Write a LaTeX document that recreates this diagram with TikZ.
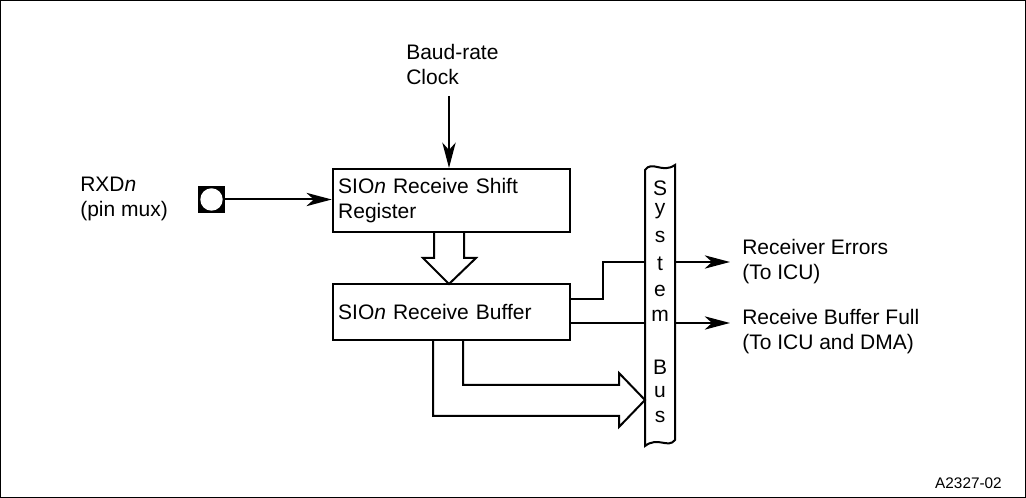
\documentclass[tikz,border=0pt]{standalone}
\usepackage{fontspec}
\setmainfont{Liberation Sans}
\usetikzlibrary{arrows.meta,calc}
\begin{document}
\begin{tikzpicture}[x=0.75pt,y=-0.75pt,
  every node/.style={font=\fontsize{15.75}{18.75}\selectfont, inner sep=0pt},
  line/.style={line width=1.5pt},
  arr/.style={line width=1.5pt, -{Stealth[length=19pt,width=10pt,inset=5.5pt]}},
  blockbox/.style={draw, line width=1.6pt, minimum width=177.75pt, text width=170pt, inner xsep=4pt, align=left},
  txt/.style={align=left, anchor=west},
  buslbl/.style={font=\fontsize{15.75}{18.75}\selectfont}
]
\useasboundingbox (0,0) rectangle (1026,498);
\draw[line width=0.75pt] (0.5,0.5) rectangle (1025.5,497.5);

% blocks
\node[blockbox, minimum height=47.25pt] (shift) at (451.5,200.5) {SIO\textit{n} Receive Shift\\Register};
\node[blockbox, minimum height=42pt] (buf) at (451.5,312) {SIO\textit{n} Receive Buffer};

% pin
\node[fill=black, minimum width=20pt, minimum height=20pt] (pin) at (211.5,199.5) {};
\fill[white] (pin.center) circle (8.4pt);
\node[txt] (rxd) at (80,199) {RXD\textit{n}\\(pin mux)};
\draw[arr] (pin.east) -- (pin.east -| shift.west);

% clock
\node[txt] (clktxt) at (406,65) {Baud-rate\\Clock};
\coordinate (clk) at (449,96);
\draw[arr] (clk) -- (clk |- shift.north);

% hollow arrow between blocks
\draw[line width=1.5pt, line join=miter] (434,232) -- (434,258) -- (423,258) -- (449,284) -- (476,258) -- (464,258) -- (464,232);

% system bus
\node[minimum width=22.5pt, minimum height=207pt] (bus) at (660,305) {};
\draw[line width=1.5pt, fill=white]
  (645,170) .. controls (652,160) and (662,174) .. (675,165)
  -- (675,440) .. controls (668,449) and (658,436) .. (645,446) -- cycle;
\foreach \l/\yy in {S/188,y/211,s/237,t/264,e/291,m/316,B/367,u/392,s/417}
  \node[buslbl] at (660,\yy) {\l};

% receiver errors
\node[txt] (err) at (742,262) {Receiver Errors\\(To ICU)};
\draw[line] (buf.east |- 0,299) -- (603,299) -- (603,262) -- (bus.west |- 0,262);
\draw[arr] (bus.east |- 0,262) -- ($(err.west |- 0,262)+(-12,0)$);

% receive buffer full
\node[txt] (full) at (742,332) {Receive Buffer Full\\(To ICU and DMA)};
\draw[line] (buf.east |- 0,323) -- (bus.west |- 0,323);
\draw[arr] (bus.east |- 0,323) -- ($(full.west |- 0,323)+(-12,0)$);

% wide arrow to bus
\draw[line width=1.5pt, line join=miter] (433,340) -- (433,416) -- (619,416) -- (619,427) -- (645,400) -- (619,373) -- (619,385) -- (463,385) -- (463,340);

\node[anchor=east, font=\fontsize{11.5}{13}\selectfont] (id) at (1002,483) {A2327-02};
\end{tikzpicture}
\end{document}
